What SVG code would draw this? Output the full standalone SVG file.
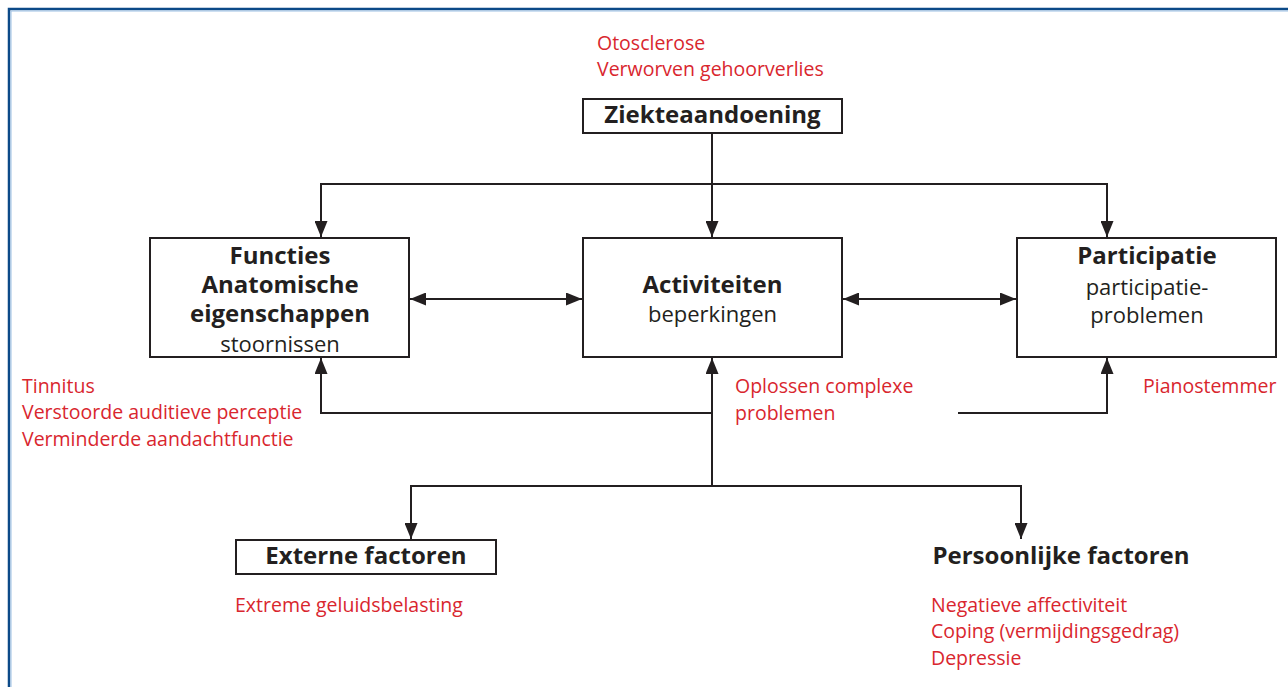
<svg xmlns="http://www.w3.org/2000/svg" width="1288" height="687" viewBox="0 0 1288 687">
<defs>
<marker id="ah" markerUnits="userSpaceOnUse" markerWidth="16" markerHeight="13" refX="16" refY="6.5" orient="auto-start-reverse">
<path d="M0,0 L16,6.5 L0,13 Z" fill="#231f20"/>
</marker>
</defs>
<style>
.box{fill:#fff;stroke:#231f20;stroke-width:2}
.b{font-family:"Open Sans","Liberation Sans",sans-serif;font-weight:bold;font-size:24px;fill:#231f20;text-anchor:middle}
.r{font-family:"Open Sans","Liberation Sans",sans-serif;font-size:22px;fill:#231f20;text-anchor:middle}
.red{font-family:"Open Sans","Liberation Sans",sans-serif;font-size:19.5px;fill:#d9262e}
.ln{fill:none;stroke:#231f20;stroke-width:2}
</style>
<rect width="1288" height="687" fill="#fff"/>
<g id="frame">
<path d="M9,687 V9 H1288" fill="none" stroke="#0c4a88" stroke-width="2.5"/>
<path d="M11,687 V11 H1288" fill="none" stroke="#9cc0e4" stroke-width="1"/>
</g>
<g id="connectors">
<path class="ln" d="M712,133 V237" marker-end="url(#ah)"/>
<path class="ln" d="M321,237 V184 H1107 V237" marker-start="url(#ah)" marker-end="url(#ah)"/>
<path class="ln" d="M410,299 H582" marker-start="url(#ah)" marker-end="url(#ah)"/>
<path class="ln" d="M843,299 H1016" marker-start="url(#ah)" marker-end="url(#ah)"/>
<path class="ln" d="M712,486 V358" marker-end="url(#ah)"/>
<path class="ln" d="M712,413 H321 V358" marker-end="url(#ah)"/>
<path class="ln" d="M958,413 H1107 V358" marker-end="url(#ah)"/>
<path class="ln" d="M411,539 V486 H1021 V539" marker-start="url(#ah)" marker-end="url(#ah)"/>
</g>
<g id="ziekte">
<text class="red" x="597" y="50">Otosclerose</text>
<text class="red" x="597" y="76">Verworven gehoorverlies</text>
<rect class="box" x="583" y="99" width="259" height="34"/>
<text class="b" x="712.5" y="123">Ziekteaandoening</text>
</g>
<g id="functies">
<rect class="box" x="150" y="238" width="259" height="119"/>
<text class="b" x="280" y="264">Functies</text>
<text class="b" x="280" y="293">Anatomische</text>
<text class="b" x="280" y="322">eigenschappen</text>
<text class="r" x="280" y="352">stoornissen</text>
<text class="red" x="22" y="393">Tinnitus</text>
<text class="red" x="22" y="419">Verstoorde auditieve perceptie</text>
<text class="red" x="22" y="446">Verminderde aandachtfunctie</text>
</g>
<g id="activiteiten">
<rect class="box" x="583" y="238" width="259" height="119"/>
<text class="b" x="712.5" y="293">Activiteiten</text>
<text class="r" x="712.5" y="322">beperkingen</text>
<text class="red" x="735" y="393">Oplossen complexe</text>
<text class="red" x="735" y="420">problemen</text>
</g>
<g id="participatie">
<rect class="box" x="1017" y="238" width="259" height="119"/>
<text class="b" x="1147" y="264">Participatie</text>
<text class="r" x="1147" y="295">participatie-</text>
<text class="r" x="1147" y="323">problemen</text>
<text class="red" x="1143" y="393">Pianostemmer</text>
</g>
<g id="externe">
<rect class="box" x="236" y="540" width="260" height="34"/>
<text class="b" x="366" y="564">Externe factoren</text>
<text class="red" x="235" y="612">Extreme geluidsbelasting</text>
</g>
<g id="persoonlijke">
<text class="b" x="1061" y="564">Persoonlijke factoren</text>
<text class="red" x="931" y="612">Negatieve affectiviteit</text>
<text class="red" x="931" y="638">Coping (vermijdingsgedrag)</text>
<text class="red" x="931" y="665">Depressie</text>
</g>
</svg>
